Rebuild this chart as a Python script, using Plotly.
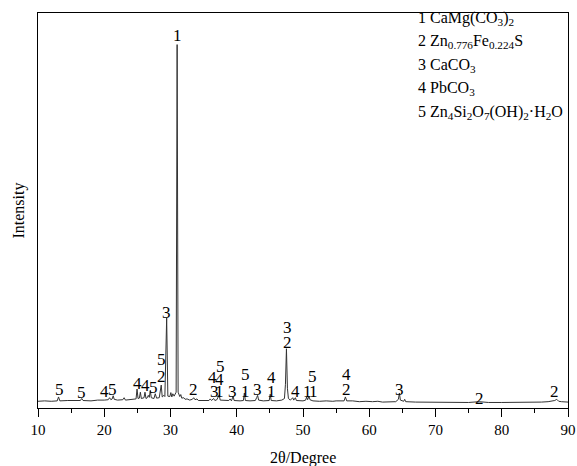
import plotly.graph_objects as go

# ---- XRD pattern (2θ in degrees, intensity in arbitrary units 0-100) ----
two_theta = [10.0, 11.0, 12.0, 12.9, 13.1, 13.3, 14.5, 15.5, 16.4, 16.6, 16.8, 18.0, 19.0, 20.0,
             20.6, 20.8, 21.0, 21.2, 21.35, 21.5, 22.0, 22.8, 23.0, 23.2, 24.0, 24.8, 24.95, 25.1,
             25.3, 25.45, 25.6, 26.0, 26.15, 26.3, 26.5, 26.65, 26.8, 26.95, 27.1, 27.5, 27.7, 27.9,
             28.3, 28.6, 28.75, 29.0, 29.15, 29.42, 29.6, 29.9, 30.05, 30.2, 30.35, 30.55, 30.85,
             31.0, 31.15, 31.4, 31.55, 31.7, 32.0, 32.2, 32.5, 32.9, 33.3, 33.5, 33.7, 34.0, 34.2,
             35.0, 35.8, 36.0, 36.2, 36.5, 36.7, 37.0, 37.35, 37.5, 38.0, 38.8, 39.0, 39.2, 39.45,
             39.6, 40.5, 41.0, 41.15, 41.3, 42.0, 42.8, 43.0, 43.15, 43.3, 44.0, 44.9, 45.05, 45.2,
             46.0, 46.8, 47.2, 47.35, 47.5, 47.65, 47.8, 48.1, 48.45, 48.6, 48.85, 49.0, 50.0, 50.4,
             50.55, 50.7, 50.9, 51.05, 51.5, 52.5, 53.5, 54.5, 55.0, 56.2, 56.4, 56.6, 57.5, 58.5,
             59.5, 60.5, 61.3, 62.0, 63.0, 64.0, 64.4, 64.55, 64.7, 65.2, 65.35, 65.5, 67.0, 69.0,
             71.0, 73.0, 75.0, 76.6, 78.0, 80.0, 82.0, 84.0, 85.0, 86.0, 87.0, 88.0, 88.3, 88.6,
             89.0, 90.0]
intensity = [1.7, 1.8, 1.7, 1.8, 2.8, 1.8, 1.9, 1.8, 1.9, 2.4, 1.9, 1.8, 2.0, 2.0,
             2.1, 2.6, 2.1, 2.3, 3.1, 2.2, 2.0, 2.1, 2.6, 2.0, 2.2, 2.3, 4.8, 2.4,
             2.5, 4.0, 2.4, 2.6, 4.0, 2.4, 2.6, 3.2, 2.7, 4.4, 2.6, 2.4, 3.6, 2.5,
             2.6, 5.8, 2.8, 3.2, 2.9, 22.8, 3.0, 2.9, 3.9, 2.8, 3.6, 3.0, 4.0,
             92.0, 4.0, 2.9, 3.4, 2.5, 2.6, 2.2, 2.3, 2.0, 2.2, 2.6, 2.1, 2.3, 1.9,
             1.9, 1.9, 2.3, 1.9, 2.4, 1.9, 2.1, 3.3, 2.0, 1.9, 1.9, 2.3, 1.8, 3.0,
             1.9, 1.8, 1.9, 3.8, 1.9, 1.8, 1.9, 2.6, 3.2, 2.0, 1.8, 1.9, 3.5, 1.9,
             1.8, 2.0, 2.4, 6.0, 15.0, 5.0, 2.4, 2.0, 2.6, 2.0, 2.6, 1.9, 1.8, 2.0,
             2.8, 2.1, 3.0, 2.1, 1.8, 1.7, 1.8, 1.7, 1.8, 1.8, 2.8, 1.8, 1.8, 1.6,
             1.7, 1.6, 1.7, 1.5, 1.6, 1.6, 2.2, 3.8, 2.0, 1.7, 2.2, 1.6, 1.5, 1.5,
             1.4, 1.4, 1.4, 1.6, 1.4, 1.4, 1.4, 1.4, 1.4, 1.5, 1.6, 1.9, 2.2, 1.7,
             1.6, 1.5]

# ---- phase markers above peaks ----
marker_text = ["5", "5", "4", "5", "4", "4", "5", "2", "5", "3", "1", "2",
               "4", "4", "5", "3", "1", "3", "5", "1", "3", "4", "1",
               "3", "2", "4", "5", "1", "1", "4", "2", "3", "2", "2"]
marker_x = [13.2, 16.6, 20.1, 21.3, 25.0, 26.3, 27.4, 28.6, 28.6, 29.4, 31.1, 33.4,
            36.4, 37.4, 37.6, 36.6, 37.4, 39.4, 41.3, 41.3, 43.2, 45.2, 45.2,
            47.6, 47.6, 48.9, 51.4, 50.7, 51.6, 56.5, 56.5, 64.6, 76.7, 88.0]
marker_y = [4.6, 3.8, 4.3, 4.8, 6.1, 5.6, 5.3, 8.1, 12.2, 24.1, 94.2, 4.6,
            7.6, 7.3, 10.4, 4.1, 4.1, 4.1, 8.4, 4.3, 4.6, 7.8, 4.1,
            20.5, 16.5, 4.1, 8.1, 4.3, 4.3, 8.6, 4.8, 4.8, 2.5, 4.3]

# ---- phase legend ----
legend_lines = ["1 CaMg(CO<sub>3</sub>)<sub>2</sub>",
                "2 Zn<sub>0.776</sub>Fe<sub>0.224</sub>S",
                "3 CaCO<sub>3</sub>",
                "4 PbCO<sub>3</sub>",
                "5 Zn<sub>4</sub>Si<sub>2</sub>O<sub>7</sub>(OH)<sub>2</sub>·H<sub>2</sub>O"]

x_ticks = [10, 20, 30, 40, 50, 60, 70, 80, 90]

FONT = "Liberation Serif, Times New Roman, serif"

fig = go.Figure()
fig.add_trace(go.Scatter(x=two_theta, y=intensity, mode="lines",
                         line=dict(color="#333333", width=1), showlegend=False,
                         hoverinfo="skip"))

annotations = []
for t, x, y in zip(marker_text, marker_x, marker_y):
    annotations.append(dict(x=x, y=y, xref="x", yref="y", text=t, showarrow=False,
                            font=dict(family=FONT, size=17, color="black"),
                            xanchor="center", yanchor="middle", borderpad=0))

legend_y = [0.987, 0.927, 0.866, 0.808, 0.749]
for t, y in zip(legend_lines, legend_y):
    annotations.append(dict(x=0.713, y=y, xref="paper", yref="paper", text=t,
                            showarrow=False, xanchor="left", yanchor="middle",
                            font=dict(family=FONT, size=16, color="black")))

annotations.append(dict(x=0.5, y=0, xref="paper", yref="paper", text="2θ/Degree",
                        showarrow=False, xanchor="center", yanchor="middle", yshift=-50,
                        font=dict(family=FONT, size=16, color="black")))
annotations.append(dict(x=0, y=0.5, xref="paper", yref="paper", text="Intensity",
                        showarrow=False, xanchor="center", yanchor="middle", xshift=-20,
                        textangle=-90, font=dict(family=FONT, size=16, color="black")))

fig.update_layout(
    width=577, height=466,
    margin=dict(l=38, r=9, t=13, b=58, autoexpand=False),
    paper_bgcolor="white", plot_bgcolor="white",
    font=dict(family=FONT, size=15, color="black"),
    annotations=annotations,
    xaxis=dict(range=[10, 90], tickvals=x_ticks, ticks="outside", ticklen=8,
               tickwidth=1, tickcolor="black", showline=True, linecolor="black",
               linewidth=1, mirror=True, showgrid=False, zeroline=False,
               automargin=False,
               tickfont=dict(family=FONT, size=15, color="black"),
               minor=dict(dtick=5, ticks="outside", ticklen=4, tickcolor="black",
                          showgrid=False)),
    yaxis=dict(range=[0, 100], showticklabels=False, ticks="", showline=True,
               linecolor="black", linewidth=1, mirror=True, showgrid=False,
               zeroline=False, automargin=False),
)

# remove the page's default body margin so the figure sits at the window's corner
fig.write_html("out.html",
               config={"displayModeBar": False},
               post_script="document.body.style.margin='0';document.body.style.overflow='hidden';")
